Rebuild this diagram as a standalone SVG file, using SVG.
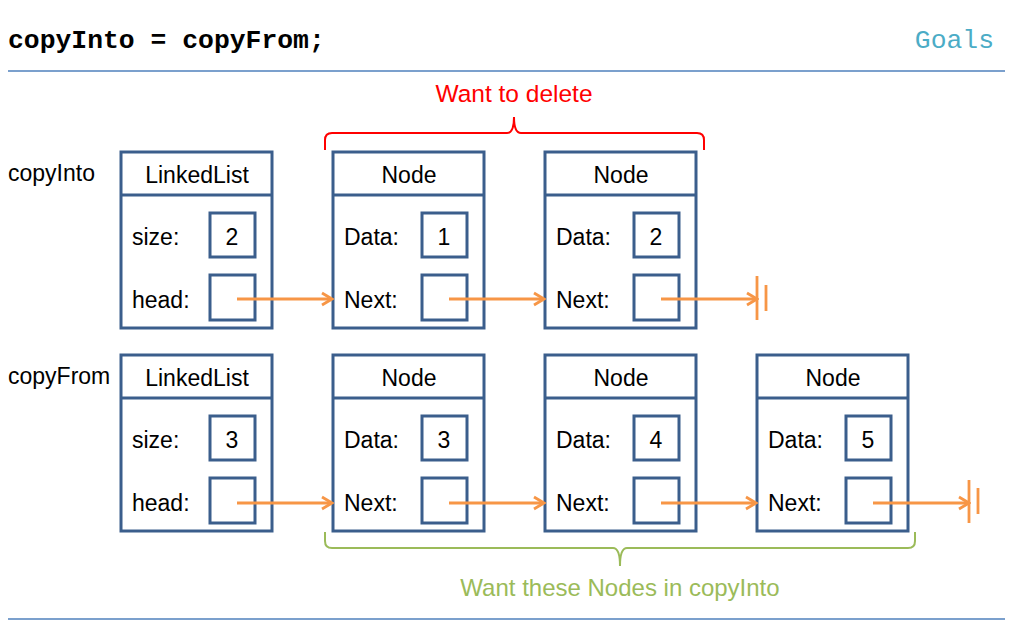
<svg xmlns="http://www.w3.org/2000/svg" width="1025" height="636" viewBox="0 0 1025 636">
<style>
.box{fill:#fff;stroke:#3B5E8C;stroke-width:3}
.in{fill:none;stroke:#3B5E8C;stroke-width:3}
.t{font-family:"Liberation Sans",Arial,sans-serif;font-size:23px;fill:#000}
.c{text-anchor:middle}
.arr{stroke:#F79646;stroke-width:2.8;fill:none}
.rule{stroke:#4F81BD;stroke-width:1.3}
</style>
<defs>
<marker id="ah" markerUnits="userSpaceOnUse" markerWidth="14" markerHeight="16" viewBox="-12 -8 14 16" refX="0" refY="0" orient="auto">
<polyline points="-10,-6 0,0 -10,6" fill="none" stroke="#F79646" stroke-width="2.8"/>
</marker>
</defs>
<rect width="1025" height="636" fill="#fff"/>
<line class="rule" x1="8" y1="71" x2="1005" y2="71"/>
<line class="rule" x1="8" y1="619" x2="1005" y2="619"/>
<text x="8" y="48" font-family="Liberation Mono,Courier New,monospace" font-weight="bold" font-size="26.4">copyInto = copyFrom;</text>
<text x="994" y="48" text-anchor="end" font-family="Liberation Mono,Courier New,monospace" font-size="26.4" fill="#4BACC6">Goals</text>
<text class="t" x="8" y="181">copyInto</text>
<text class="t" x="8" y="384">copyFrom</text>

<g id="list1">
<rect class="box" x="121" y="152" width="151" height="176"/>
<line class="in" x1="121" y1="195" x2="272" y2="195"/>
<text class="t c" x="197" y="183">LinkedList</text>
<text class="t" x="132" y="245">size:</text>
<rect class="in" x="210" y="213" width="45" height="44"/>
<text class="t c" x="232" y="245">2</text>
<text class="t" x="132" y="308">head:</text>
<rect class="in" x="210" y="275" width="45" height="45"/>
</g>
<g id="node1">
<rect class="box" x="333" y="152" width="151" height="176"/>
<line class="in" x1="333" y1="195" x2="484" y2="195"/>
<text class="t c" x="409" y="183">Node</text>
<text class="t" x="344" y="245">Data:</text>
<rect class="in" x="422" y="213" width="45" height="44"/>
<text class="t c" x="444" y="245">1</text>
<text class="t" x="344" y="308">Next:</text>
<rect class="in" x="422" y="275" width="45" height="45"/>
</g>
<g id="node2">
<rect class="box" x="545" y="152" width="151" height="176"/>
<line class="in" x1="545" y1="195" x2="696" y2="195"/>
<text class="t c" x="621" y="183">Node</text>
<text class="t" x="556" y="245">Data:</text>
<rect class="in" x="634" y="213" width="45" height="44"/>
<text class="t c" x="656" y="245">2</text>
<text class="t" x="556" y="308">Next:</text>
<rect class="in" x="634" y="275" width="45" height="45"/>
</g>

<g id="list2">
<rect class="box" x="121" y="355" width="151" height="176"/>
<line class="in" x1="121" y1="398" x2="272" y2="398"/>
<text class="t c" x="197" y="386">LinkedList</text>
<text class="t" x="132" y="448">size:</text>
<rect class="in" x="210" y="416" width="45" height="44"/>
<text class="t c" x="232" y="448">3</text>
<text class="t" x="132" y="511">head:</text>
<rect class="in" x="210" y="478" width="45" height="45"/>
</g>
<g id="node3">
<rect class="box" x="333" y="355" width="151" height="176"/>
<line class="in" x1="333" y1="398" x2="484" y2="398"/>
<text class="t c" x="409" y="386">Node</text>
<text class="t" x="344" y="448">Data:</text>
<rect class="in" x="422" y="416" width="45" height="44"/>
<text class="t c" x="444" y="448">3</text>
<text class="t" x="344" y="511">Next:</text>
<rect class="in" x="422" y="478" width="45" height="45"/>
</g>
<g id="node4">
<rect class="box" x="545" y="355" width="151" height="176"/>
<line class="in" x1="545" y1="398" x2="696" y2="398"/>
<text class="t c" x="621" y="386">Node</text>
<text class="t" x="556" y="448">Data:</text>
<rect class="in" x="634" y="416" width="45" height="44"/>
<text class="t c" x="656" y="448">4</text>
<text class="t" x="556" y="511">Next:</text>
<rect class="in" x="634" y="478" width="45" height="45"/>
</g>
<g id="node5">
<rect class="box" x="757" y="355" width="151" height="176"/>
<line class="in" x1="757" y1="398" x2="908" y2="398"/>
<text class="t c" x="833" y="386">Node</text>
<text class="t" x="768" y="448">Data:</text>
<rect class="in" x="846" y="416" width="45" height="44"/>
<text class="t c" x="868" y="448">5</text>
<text class="t" x="768" y="511">Next:</text>
<rect class="in" x="846" y="478" width="45" height="45"/>
</g>

<g id="connectors">
<line class="arr" x1="237" y1="299" x2="332" y2="299" marker-end="url(#ah)"/>
<line class="arr" x1="449" y1="299" x2="544" y2="299" marker-end="url(#ah)"/>
<line class="arr" x1="661" y1="299" x2="757" y2="299" marker-end="url(#ah)"/>
<line class="arr" x1="757" y1="276" x2="757" y2="320"/>
<line class="arr" x1="766" y1="285" x2="766" y2="311"/>
<line class="arr" x1="237" y1="503" x2="332" y2="503" marker-end="url(#ah)"/>
<line class="arr" x1="449" y1="503" x2="544" y2="503" marker-end="url(#ah)"/>
<line class="arr" x1="661" y1="503" x2="756" y2="503" marker-end="url(#ah)"/>
<line class="arr" x1="873" y1="503" x2="969" y2="503" marker-end="url(#ah)"/>
<line class="arr" x1="969" y1="480" x2="969" y2="523"/>
<line class="arr" x1="978" y1="488" x2="978" y2="514"/>
</g>

<g id="deleteBrace">
<path d="M325,150 L325,140 Q325,133 332,133 L507,133 Q514,133 514,117 Q514,133 521,133 L697,133 Q704,133 704,140 L704,150" fill="none" stroke="#FF0000" stroke-width="2"/>
<text x="514" y="102" text-anchor="middle" font-family="Liberation Sans,Arial,sans-serif" font-size="24.5" fill="#FF0000">Want to delete</text>
</g>
<g id="keepBrace">
<path d="M325,532 L325,541 Q325,548 332,548 L613,548 Q620,548 620,566 Q620,548 627,548 L908,548 Q915,548 915,541 L915,532" fill="none" stroke="#9BBB59" stroke-width="2"/>
<text x="620" y="596" text-anchor="middle" font-family="Liberation Sans,Arial,sans-serif" font-size="24" fill="#9BBB59">Want these Nodes in copyInto</text>
</g>
</svg>
